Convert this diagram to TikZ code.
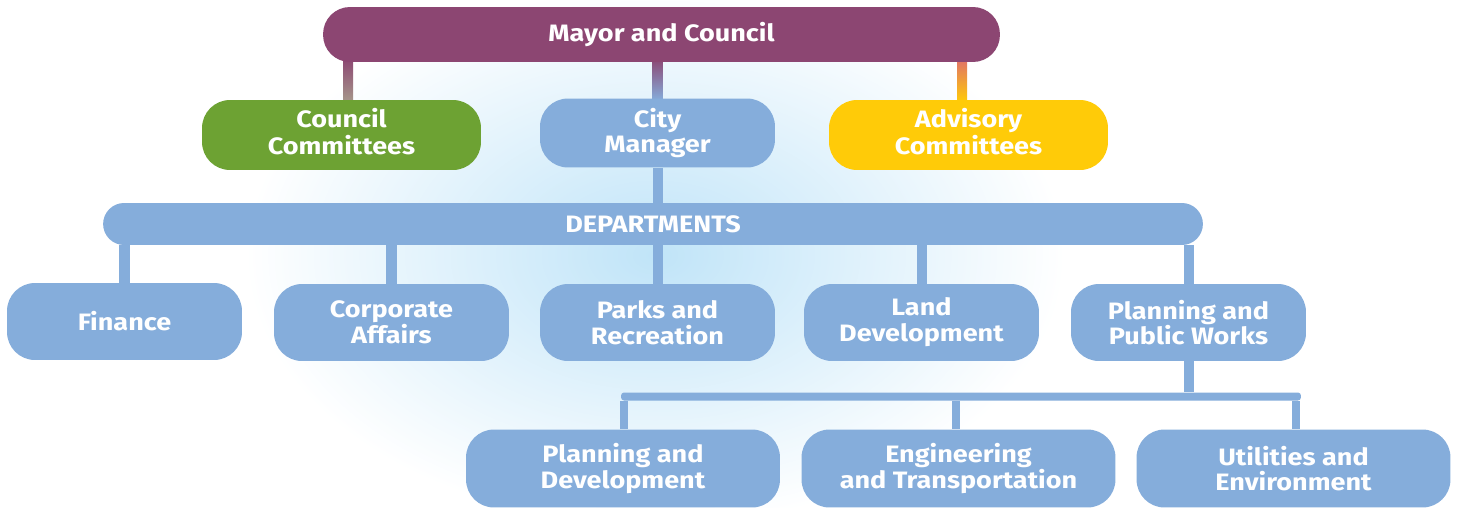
\documentclass[tikz,border=0pt]{standalone}
\usepackage{fontspec}
\setmainfont{Fira Sans}[FakeStretch=1.14]
\usetikzlibrary{calc}
\definecolor{mc}{HTML}{8C4672}
\definecolor{gc}{HTML}{6DA233}
\definecolor{bc}{HTML}{85ADDB}
\definecolor{yc}{HTML}{FFCB08}
\definecolor{rc}{HTML}{E0706A}
\definecolor{glowc}{HTML}{C0E4F8}
\pgfdeclarelayer{glow}
\pgfdeclarelayer{bg}
\pgfsetlayers{glow,bg,main}
\newcommand{\twolines}[2]{\raisebox{1.5pt}{\begin{tabular}{@{}c@{}}#1\\#2\end{tabular}}}
\tikzset{
  box/.style={fill=#1, text=white, font=\bfseries\fontsize{13.5}{14.7}\selectfont,
    align=center, inner sep=0pt, rounded corners=0.56cm},
  depbox/.style={box=bc, minimum width=4.7cm, minimum height=1.54cm},
  subbox/.style={box=bc, minimum width=6.28cm, minimum height=1.56cm},
  link/.style={draw=bc, line width=5.7pt},
  thinlink/.style={draw=bc, line width=4.6pt}
}
\begin{document}
\begin{tikzpicture}[x=0.02cm, y=-0.02cm]
\useasboundingbox (0,0) rectangle (1460,507);
\clip (0,0) rectangle (1460,507);

% nodes
\node[box=mc, minimum width=13.54cm, minimum height=1.1cm, rounded corners=0.54cm] (mayor) at (661.5,34.5) {\raisebox{-1pt}{Mayor and Council}};
\node[box=gc, minimum width=5.58cm, minimum height=1.4cm] (cc) at (341.5,135) {\twolines{Council}{Committees}};
\node[box=bc, minimum width=4.7cm, minimum height=1.38cm] (cm) at (657.5,133) {City\\Manager};
\node[box=yc, minimum width=5.58cm, minimum height=1.4cm] (ac) at (968.5,135) {\twolines{Advisory}{Committees}};
\node[box=bc, minimum width=22cm, minimum height=0.84cm, rounded corners=0.42cm] (dept) at (653,224) {DEPARTMENTS};

\node[depbox] (fin) at (124.5,321.5) {\raisebox{-1pt}{Finance}};
\node[depbox] (corp) at (391.5,322.5) {Corporate\\Affairs};
\node[depbox] (parks) at (657.5,322.5) {Parks and\\Recreation};
\node[depbox] (land) at (921.5,322.5) {Land\\Development};
\node[depbox] (ppw) at (1188.5,322.5) {Planning and\\Public Works};

\node[fill=bc, minimum width=13.6cm, minimum height=0.16cm, inner sep=0pt, rounded corners=0.06cm] (sub) at (961,396.5) {};

\node[subbox] (pd) at (623,468.5) {Planning and\\Development};
\node[subbox] (et) at (958.5,468.5) {Engineering\\and Transportation};
\node[subbox] (ue) at (1293.5,468.5) {Utilities and\\Environment};

% glow
\begin{pgfonlayer}{glow}
\fill[white] (0,0) rectangle (1460,507);
\shade[inner color=glowc, outer color=white] (655,255) ellipse [x radius=8.2cm, y radius=5.4cm];
\end{pgfonlayer}

% connectors
\begin{pgfonlayer}{bg}
\shade[top color=mc, bottom color=gc!40!mc!70!white] ($(cc.north)+(1.5,2)$) rectangle ($(mayor.south -| cc.north)+(11.5,-4)$);
\shade[top color=mc, bottom color=bc] ($(cm.north)+(-5,2)$) rectangle ($(mayor.south -| cm.north)+(5,-4)$);
\shade[top color=rc, bottom color=yc] ($(ac.north)+(-11.5,2)$) rectangle ($(mayor.south -| ac.north)+(-1.5,-4)$);
\draw[link] (cm.south) -- (dept.north -| cm.south);
\foreach \n in {fin,corp,parks,land,ppw}
  \draw[link] (dept.south -| \n.north) -- (\n.north);
\draw[link] (ppw.south) -- (sub.north -| ppw.south);
\draw[thinlink] ($(sub.south -| pd.north)+(1,0)$) -- ($(pd.north)+(1,0)$);
\draw[thinlink] ($(sub.south -| et.north)+(-2.5,0)$) -- ($(et.north)+(-2.5,0)$);
\draw[thinlink] ($(sub.south -| ue.north)+(2.5,0)$) -- ($(ue.north)+(2.5,0)$);
\end{pgfonlayer}
\end{tikzpicture}
\end{document}
